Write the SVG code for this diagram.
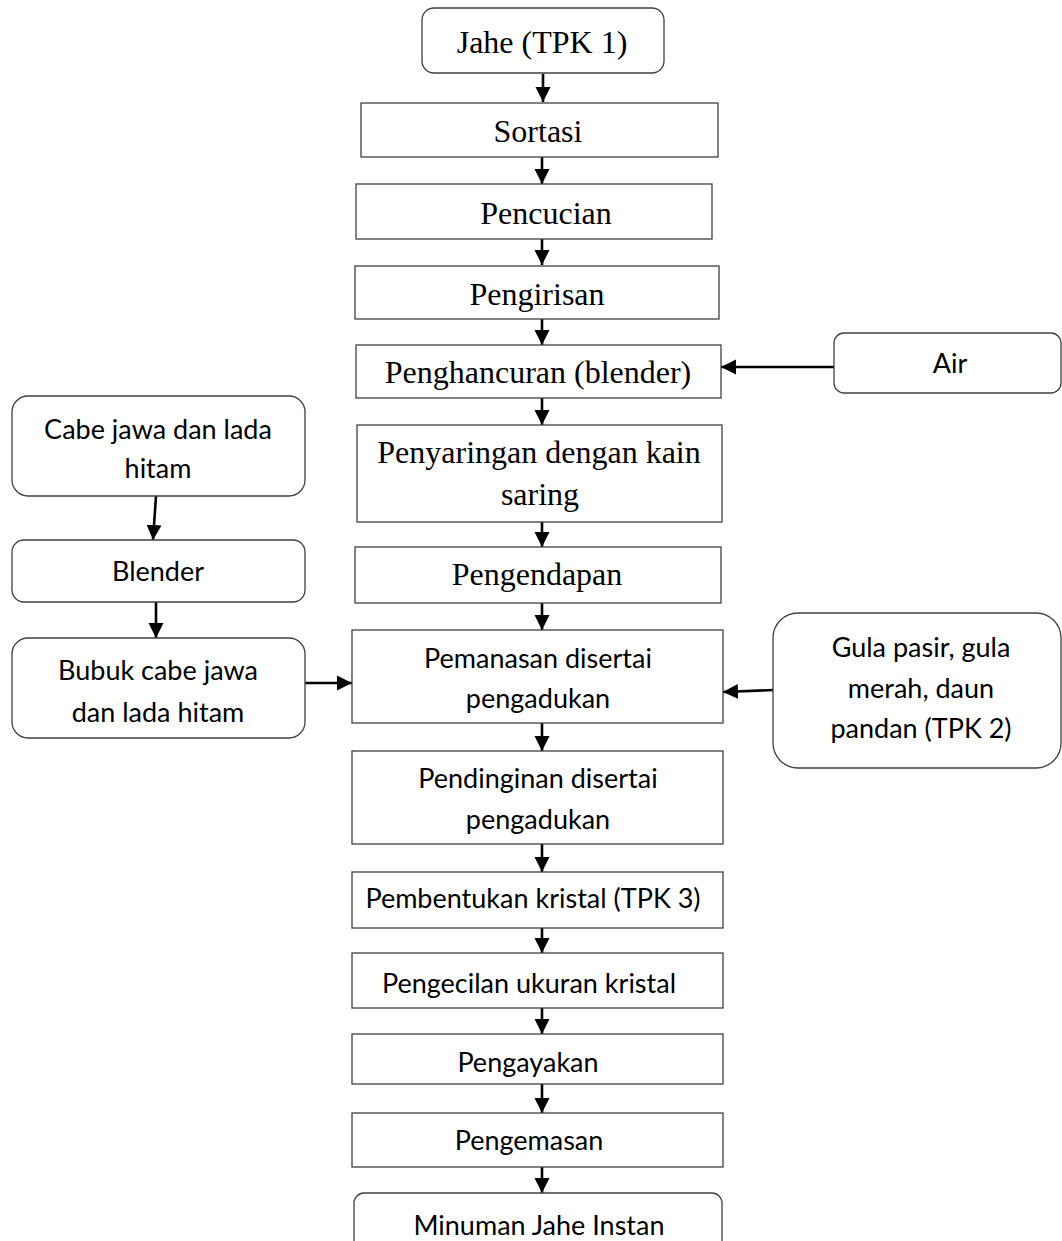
<svg xmlns="http://www.w3.org/2000/svg" width="1062" height="1241" viewBox="0 0 1062 1241">
<defs>
<marker id="ah" markerUnits="userSpaceOnUse" markerWidth="16" markerHeight="16" viewBox="0 0 16 16" refX="15" refY="8" orient="auto">
<path d="M0,0.5 L15,8 L0,15.5 Z" fill="#000"/>
</marker>
<style>
.box{fill:#fff;stroke:#404040;stroke-width:1.3}
.serif{font-family:"Liberation Serif","Times New Roman",serif;font-size:32px;fill:#000;text-anchor:middle}
.sans{font-family:Lato,"Open Sans",sans-serif;font-size:27px;fill:#000;text-anchor:middle}
.arr{stroke:#000;stroke-width:2.6;fill:none;marker-end:url(#ah)}
</style>
</defs>
<rect width="1062" height="1241" fill="#fff"/>

<g id="connectors">
<line class="arr" x1="543" y1="74" x2="543" y2="102"/>
<line class="arr" x1="542" y1="157" x2="542" y2="184"/>
<line class="arr" x1="542" y1="239" x2="542" y2="265"/>
<line class="arr" x1="542" y1="319" x2="542" y2="345"/>
<line class="arr" x1="542" y1="398" x2="542" y2="425"/>
<line class="arr" x1="542" y1="522" x2="542" y2="547"/>
<line class="arr" x1="542" y1="603" x2="542" y2="630"/>
<line class="arr" x1="542" y1="723" x2="542" y2="751"/>
<line class="arr" x1="542" y1="844" x2="542" y2="872"/>
<line class="arr" x1="542" y1="928" x2="542" y2="953"/>
<line class="arr" x1="542" y1="1008" x2="542" y2="1034"/>
<line class="arr" x1="542" y1="1084" x2="542" y2="1113"/>
<line class="arr" x1="542" y1="1167" x2="542" y2="1193"/>
<line class="arr" x1="156" y1="496" x2="153" y2="540"/>
<line class="arr" x1="156" y1="602" x2="156" y2="638"/>
<line class="arr" x1="305" y1="683" x2="352" y2="683"/>
<line class="arr" x1="834" y1="367" x2="721" y2="367"/>
<line class="arr" x1="773" y1="690" x2="723" y2="692"/>
</g>

<g id="jahe"><rect class="box" x="422" y="8" width="242" height="65" rx="12"/><text class="serif" x="542" y="53">Jahe (TPK 1)</text></g>
<g id="sortasi"><rect class="box" x="361" y="103" width="357" height="54"/><text class="serif" x="538" y="142">Sortasi</text></g>
<g id="pencucian"><rect class="box" x="356" y="184" width="356" height="55"/><text class="serif" x="546" y="224">Pencucian</text></g>
<g id="pengirisan"><rect class="box" x="355" y="266" width="364" height="53"/><text class="serif" x="537" y="305">Pengirisan</text></g>
<g id="penghancuran"><rect class="box" x="356" y="345" width="365" height="53"/><text class="serif" x="538" y="383">Penghancuran (blender)</text></g>
<g id="penyaringan"><rect class="box" x="357" y="425" width="365" height="97"/><text class="serif" x="539" y="463">Penyaringan dengan kain</text><text class="serif" x="540" y="505">saring</text></g>
<g id="pengendapan"><rect class="box" x="355" y="547" width="366" height="56"/><text class="serif" x="537" y="585">Pengendapan</text></g>
<g id="pemanasan"><rect class="box" x="352" y="630" width="371" height="93"/><text class="sans" x="538" y="668">Pemanasan disertai</text><text class="sans" x="538" y="708">pengadukan</text></g>
<g id="pendinginan"><rect class="box" x="352" y="751" width="371" height="93"/><text class="sans" x="538" y="788">Pendinginan disertai</text><text class="sans" x="538" y="829">pengadukan</text></g>
<g id="pembentukan"><rect class="box" x="352" y="872" width="371" height="56"/><text class="sans" x="533" y="908">Pembentukan kristal (TPK 3)</text></g>
<g id="pengecilan"><rect class="box" x="352" y="953" width="371" height="55"/><text class="sans" x="529" y="993">Pengecilan ukuran kristal</text></g>
<g id="pengayakan"><rect class="box" x="352" y="1034" width="371" height="50"/><text class="sans" x="528" y="1072">Pengayakan</text></g>
<g id="pengemasan"><rect class="box" x="352" y="1113" width="371" height="54"/><text class="sans" x="529" y="1150">Pengemasan</text></g>
<g id="minuman"><rect class="box" x="354" y="1193" width="368" height="70" rx="10"/><text class="sans" x="539" y="1235">Minuman Jahe Instan</text></g>

<g id="cabe"><rect class="box" x="12" y="396" width="293" height="100" rx="16"/><text class="sans" x="158" y="439">Cabe jawa dan lada</text><text class="sans" x="158" y="478">hitam</text></g>
<g id="blender"><rect class="box" x="12" y="540" width="293" height="62" rx="12"/><text class="sans" x="158" y="581">Blender</text></g>
<g id="bubuk"><rect class="box" x="12" y="638" width="293" height="100" rx="16"/><text class="sans" x="158" y="680">Bubuk cabe jawa</text><text class="sans" x="158" y="722">dan lada hitam</text></g>

<g id="air"><rect class="box" x="834" y="333" width="227" height="60" rx="10"/><text class="sans" x="950" y="373">Air</text></g>
<g id="gula"><rect class="box" x="773" y="613" width="288" height="155" rx="25"/><text class="sans" x="921" y="657">Gula pasir, gula</text><text class="sans" x="921" y="698">merah, daun</text><text class="sans" x="921" y="738">pandan (TPK 2)</text></g>
</svg>
